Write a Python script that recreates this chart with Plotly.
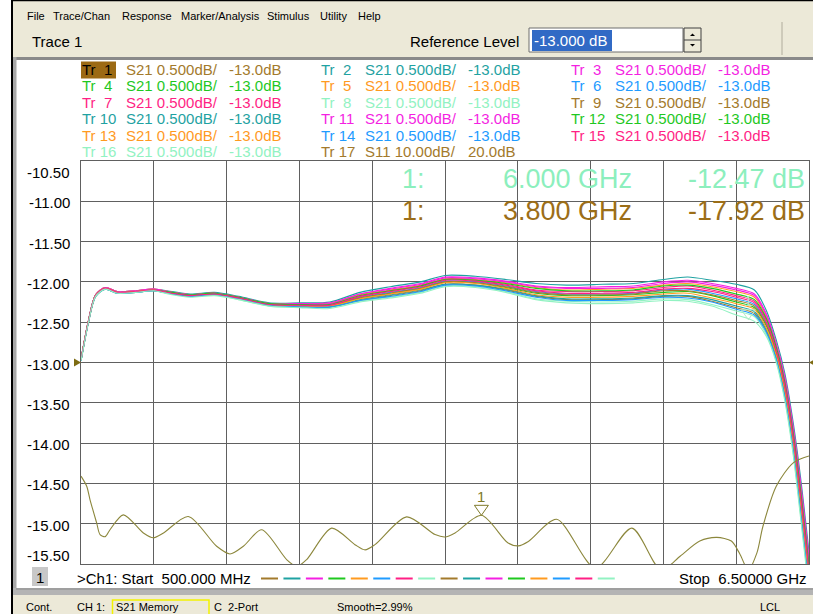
import plotly.graph_objects as go

# ---------------- canvas geometry (pixels) ----------------
W, H = 813, 614
ML, MR, MT, MB = 81, 4, 161, 50
PW, PH = W - ML - MR, H - MT - MB


def px(x):
    """pixel column -> paper x"""
    return (x - ML) / PW


def py(y):
    """pixel row -> paper y"""
    return (H - MB - y) / PH


FONT = "Liberation Sans, Arial, sans-serif"

# ---------------- sweep data ----------------
FREQ_GHZ = [0.50, 0.56, 0.62, 0.70, 0.80, 0.95, 1.10, 1.25, 1.40, 1.60, 1.80, 2.05,
            2.30, 2.55, 2.80, 3.05, 3.30, 3.50, 3.75, 4.00, 4.25, 4.50, 4.80, 5.05,
            5.30, 5.50, 5.70, 5.90, 6.05, 6.15, 6.23, 6.30, 6.37, 6.43, 6.50]

TR1 = [-12.98, -12.51, -12.18, -12.09, -12.14, -12.13, -12.11, -12.15, -12.18, -12.16, -12.21, -12.29,
       -12.31, -12.31, -12.23, -12.17, -12.11, -12.03, -12.04, -12.10, -12.18, -12.22, -12.22, -12.21,
       -12.18, -12.18, -12.24, -12.32, -12.39, -12.62, -12.94, -13.40, -14.07, -14.82, -15.75]
TR2 = [-12.96, -12.49, -12.16, -12.07, -12.12, -12.11, -12.09, -12.12, -12.15, -12.13, -12.18, -12.26,
       -12.26, -12.25, -12.13, -12.06, -12.00, -11.92, -11.93, -11.97, -12.02, -12.04, -12.03, -12.02,
       -11.97, -11.94, -11.98, -12.03, -12.10, -12.36, -12.72, -13.13, -13.75, -14.42, -15.35]
TR3 = [-12.96, -12.49, -12.16, -12.07, -12.12, -12.11, -12.09, -12.13, -12.16, -12.14, -12.19, -12.27,
       -12.27, -12.26, -12.15, -12.08, -12.02, -11.94, -11.95, -11.99, -12.05, -12.07, -12.06, -12.05,
       -12.00, -11.98, -12.02, -12.08, -12.15, -12.40, -12.76, -13.17, -13.80, -14.48, -15.41]
TR4 = [-12.97, -12.50, -12.17, -12.08, -12.13, -12.12, -12.10, -12.14, -12.17, -12.15, -12.20, -12.28,
       -12.30, -12.30, -12.20, -12.14, -12.08, -12.00, -12.01, -12.07, -12.14, -12.17, -12.17, -12.16,
       -12.13, -12.12, -12.17, -12.25, -12.32, -12.55, -12.89, -13.33, -13.99, -14.72, -15.65]
TR5 = [-12.96, -12.49, -12.16, -12.07, -12.12, -12.11, -12.09, -12.13, -12.16, -12.14, -12.19, -12.27,
       -12.28, -12.27, -12.16, -12.10, -12.04, -11.96, -11.97, -12.01, -12.07, -12.10, -12.09, -12.08,
       -12.04, -12.02, -12.06, -12.12, -12.19, -12.44, -12.79, -13.22, -13.85, -14.55, -15.48]
TR6 = [-12.97, -12.50, -12.17, -12.08, -12.13, -12.12, -12.10, -12.14, -12.17, -12.15, -12.20, -12.28,
       -12.29, -12.29, -12.19, -12.13, -12.07, -11.99, -12.00, -12.05, -12.12, -12.15, -12.15, -12.14,
       -12.10, -12.09, -12.14, -12.21, -12.28, -12.52, -12.86, -13.30, -13.95, -14.67, -15.60]
TR7 = [-12.97, -12.50, -12.17, -12.08, -12.13, -12.12, -12.10, -12.14, -12.17, -12.15, -12.19, -12.28,
       -12.28, -12.28, -12.18, -12.11, -12.05, -11.97, -11.98, -12.03, -12.10, -12.12, -12.12, -12.11,
       -12.07, -12.05, -12.10, -12.17, -12.24, -12.48, -12.83, -13.26, -13.90, -14.61, -15.54]
TR8 = [-12.98, -12.51, -12.18, -12.09, -12.14, -12.13, -12.11, -12.15, -12.18, -12.16, -12.22, -12.30,
       -12.31, -12.32, -12.24, -12.19, -12.13, -12.05, -12.06, -12.12, -12.21, -12.24, -12.25, -12.24,
       -12.21, -12.22, -12.28, -12.36, -12.43, -12.66, -12.98, -13.44, -14.12, -14.88, -15.81]
TR9 = [-12.97, -12.50, -12.17, -12.08, -12.13, -12.12, -12.10, -12.14, -12.17, -12.15, -12.20, -12.28,
       -12.29, -12.29, -12.20, -12.14, -12.08, -12.00, -12.01, -12.06, -12.13, -12.16, -12.16, -12.15,
       -12.11, -12.11, -12.16, -12.23, -12.30, -12.54, -12.87, -13.32, -13.97, -14.70, -15.63]
TR10 = [-12.98, -12.51, -12.18, -12.09, -12.14, -12.13, -12.11, -12.15, -12.18, -12.16, -12.21, -12.29,
        -12.30, -12.31, -12.22, -12.16, -12.10, -12.03, -12.04, -12.09, -12.17, -12.21, -12.21, -12.20,
        -12.17, -12.17, -12.22, -12.30, -12.37, -12.60, -12.93, -13.39, -14.05, -14.80, -15.73]
TR11 = [-12.96, -12.49, -12.16, -12.07, -12.12, -12.11, -12.09, -12.13, -12.16, -12.14, -12.19, -12.27,
        -12.27, -12.27, -12.15, -12.09, -12.03, -11.95, -11.96, -12.00, -12.06, -12.08, -12.08, -12.07,
        -12.02, -12.00, -12.04, -12.10, -12.17, -12.42, -12.78, -13.20, -13.83, -14.52, -15.45]
TR12 = [-12.97, -12.50, -12.17, -12.08, -12.13, -12.12, -12.10, -12.13, -12.16, -12.14, -12.19, -12.27,
        -12.28, -12.28, -12.17, -12.11, -12.05, -11.97, -11.98, -12.02, -12.08, -12.11, -12.11, -12.10,
        -12.05, -12.04, -12.08, -12.15, -12.22, -12.46, -12.81, -13.24, -13.88, -14.58, -15.51]
TR13 = [-12.97, -12.50, -12.17, -12.08, -12.13, -12.12, -12.10, -12.15, -12.18, -12.16, -12.21, -12.29,
        -12.30, -12.30, -12.21, -12.15, -12.09, -12.01, -12.02, -12.08, -12.16, -12.19, -12.19, -12.18,
        -12.15, -12.14, -12.20, -12.27, -12.34, -12.58, -12.91, -13.36, -14.02, -14.76, -15.69]
TR14 = [-12.98, -12.51, -12.18, -12.09, -12.14, -12.13, -12.11, -12.15, -12.18, -12.16, -12.21, -12.29,
        -12.31, -12.31, -12.23, -12.18, -12.12, -12.04, -12.05, -12.11, -12.19, -12.23, -12.23, -12.22,
        -12.19, -12.20, -12.25, -12.34, -12.41, -12.63, -12.96, -13.42, -14.09, -14.85, -15.78]
TR15 = [-12.97, -12.50, -12.17, -12.08, -12.13, -12.12, -12.10, -12.14, -12.17, -12.15, -12.20, -12.28,
        -12.29, -12.29, -12.18, -12.12, -12.06, -11.98, -11.99, -12.04, -12.11, -12.14, -12.14, -12.13,
        -12.09, -12.08, -12.12, -12.19, -12.26, -12.50, -12.85, -13.28, -13.93, -14.65, -15.58]
TR16 = [-12.98, -12.51, -12.18, -12.09, -12.14, -12.13, -12.11, -12.16, -12.19, -12.17, -12.22, -12.30,
        -12.32, -12.33, -12.25, -12.20, -12.14, -12.06, -12.07, -12.13, -12.22, -12.26, -12.27, -12.26,
        -12.23, -12.24, -12.30, -12.41, -12.49, -12.68, -13.00, -13.47, -14.15, -14.92, -15.85]

# Tr 17 : S11, 10 dB/div, reference 20 dB at the centre line
S11_FREQ_GHZ = [0.50, 0.547, 0.574, 0.629, 0.657, 0.70, 0.739, 0.849, 1.014, 1.096, 1.18, 1.384,
                1.618, 1.728, 1.838, 1.989, 2.195, 2.278, 2.36, 2.566, 2.758, 2.841, 2.923, 3.184,
                3.418, 3.50, 3.583, 3.80, 4.02, 4.104, 4.187, 4.42, 4.74, 5.04, 5.28, 5.44,
                5.60, 5.74, 5.86, 5.93, 6.00, 6.07, 6.12, 6.23, 6.37, 6.50]
S11_DB = [-8.2, -10.7, -14.0, -19.8, -22.7, -23.2, -21.5, -17.8, -22.3, -23.5, -22.3, -18.2,
          -25.6, -27.5, -25.6, -21.5, -28.9, -30.6, -28.9, -21.1, -25.2, -26.5, -25.2, -18.3,
          -22.7, -23.3, -22.3, -17.92, -24.8, -25.5, -24.4, -18.9, -31.0, -21.1, -31.5, -28.0,
          -24.3, -23.4, -24.3, -27.5, -31.5, -27.3, -20.7, -10.7, -4.9, -3.2]

S21_TRACES = [TR1, TR2, TR3, TR4, TR5, TR6, TR7, TR8, TR9, TR10, TR11, TR12, TR13, TR14, TR15, TR16]

BROWN, TEAL, MAGENTA, GREEN = "#A37A2C", "#1FA2A2", "#F41FE2", "#1FC81F"
ORANGE, BLUE, PINK, MINT = "#FF9A1F", "#1F9BFF", "#FF1F84", "#92F2C2"
TRACE_COLORS = [BROWN, TEAL, MAGENTA, GREEN, ORANGE, BLUE, PINK, MINT,
                BROWN, TEAL, MAGENTA, GREEN, ORANGE, BLUE, PINK, MINT, BROWN]
TRACE_PARAMS = ["S21"] * 16 + ["S11"]
TRACE_SCALES = ["0.500dB/"] * 16 + ["10.00dB/"]
TRACE_REFS = ["-13.0dB"] * 16 + ["20.0dB"]

Y_TICKS = [-10.5, -11.0, -11.5, -12.0, -12.5, -13.0, -13.5, -14.0, -14.5, -15.0, -15.5]

MKR_S21 = (6.000, -12.47)
MKR_S11 = (3.800, -17.92)
MKR_TEXT = [("1:", "6.000 GHz", "-12.47 dB", "#8CEFBD"),
            ("1:", "3.800 GHz", "-17.92 dB", "#9C6E18")]

S11_COLOR = "#8C873C"
GRID = "#606060"
BEIGE = "#ECE9D8"

fig = go.Figure()

for vals, col in zip(S21_TRACES, TRACE_COLORS):
    fig.add_trace(go.Scatter(x=FREQ_GHZ, y=vals, mode="lines", yaxis="y",
                             line=dict(color=col, width=1.1, shape="spline", smoothing=0.8),
                             hoverinfo="skip"))

fig.add_trace(go.Scatter(x=S11_FREQ_GHZ, y=S11_DB, mode="lines", yaxis="y2",
                         line=dict(color=S11_COLOR, width=1.1, shape="spline", smoothing=0.8),
                         hoverinfo="skip"))

shapes = []
ann = []


def rect(x0, y0, x1, y1, fill, line=None, lw=0):
    shapes.append(dict(type="rect", xref="paper", yref="paper", layer="below",
                       x0=px(x0), x1=px(x1), y0=py(y1), y1=py(y0), fillcolor=fill,
                       line=dict(color=line or fill, width=lw)))


def hline(x0, x1, y, color, w=1):
    shapes.append(dict(type="line", xref="paper", yref="paper", layer="above",
                       x0=px(x0), x1=px(x1), y0=py(y), y1=py(y), line=dict(color=color, width=w)))


def vline(x, y0, y1, color, w=1):
    shapes.append(dict(type="line", xref="paper", yref="paper", layer="above",
                       x0=px(x), x1=px(x), y0=py(y0), y1=py(y1), line=dict(color=color, width=w)))


def text(x, y, s, size=15, color="#000000", anchor="left"):
    ann.append(dict(x=px(x), y=py(y), xref="paper", yref="paper", text=s, showarrow=False,
                    xanchor=anchor, yanchor="middle", borderpad=0,
                    font=dict(size=size, color=color, family=FONT)))


# window frame: menu bar, toolbar, chart window, status bar
rect(12, 0, W, 57, BEIGE)
hline(12, W, 0.5, "#000000", 1.5)
vline(12, 0, H, "#000000", 2)
rect(13, 57, W, 60, "#8A8A8A")
rect(13, 57, 16.5, 595, "#A8A8A8")
rect(13, 588, W, 595, "#B4B4B4")
hline(16, W, 589, "#8A8A8A", 1)
rect(13, 595, W, H, BEIGE)
vline(782, 22, 55, "#B0AC9C", 1)

for label, x in [("File", 26), ("Trace/Chan", 52), ("Response", 121), ("Marker/Analysis", 180),
                 ("Stimulus", 266), ("Utility", 319), ("Help", 357)]:
    text(x, 15.5, label, size=11)

text(31, 41.5, "Trace 1", size=15)
text(409, 41.5, "Reference Level", size=15)
rect(529, 28, 683, 52, "#FFFFFF", "#6E6E6E", 1)
rect(532, 30, 612, 51, "#316AC5")
text(533, 40.5, "-13.000 dB", size=15, color="#FFFFFF")
rect(684, 28, 701, 52, BEIGE, "#404040", 1)
hline(684, 701, 40, "#404040", 1)
shapes.append(dict(type="path", xref="paper", yref="paper", layer="above", fillcolor="#000000",
                   line=dict(width=0),
                   path=f"M {px(690)},{py(36)} L {px(695)},{py(36)} L {px(692.5)},{py(33.5)} Z"))
shapes.append(dict(type="path", xref="paper", yref="paper", layer="above", fillcolor="#000000",
                   line=dict(width=0),
                   path=f"M {px(690)},{py(44)} L {px(695)},{py(44)} L {px(692.5)},{py(46.5)} Z"))

# trace legend block
COL_X = [81, 320, 570]
ROW_Y = [69, 85.5, 102, 118.5, 135, 151.5]
rect(81, 61.5, 116, 78.5, "#9C6A14")
for i in range(17):
    cx, ry = COL_X[i % 3], ROW_Y[i // 3]
    col = TRACE_COLORS[i]
    tr_label = ("Tr" + f"{i + 1:>3}").replace(" ", "\u00a0")
    text(cx, ry, tr_label, color="#000000" if i == 0 else col)
    text(cx + 44, ry, f"{TRACE_PARAMS[i]} {TRACE_SCALES[i]}", color=col)
    text(cx + 147, ry, TRACE_REFS[i], color=col)

# marker readout
for (lab, fr, val, col), ry in zip(MKR_TEXT, [178.5, 210.5]):
    text(401, ry, lab, size=27, color=col)
    text(633, ry, fr, size=27, color=col, anchor="right")
    text(806, ry, val, size=27, color=col, anchor="right")

# y scale labels (outer labels sit inside the graticule)
for v in Y_TICKS:
    shift = -11 if v == Y_TICKS[0] else (9 if v == Y_TICKS[-1] else -1.5)
    ann.append(dict(x=px(71), y=v, xref="paper", yref="y", text=f"{v:.2f}", showarrow=False,
                    xanchor="right", yanchor="middle", yshift=shift, borderpad=0,
                    font=dict(size=15, color="#000000", family=FONT)))

# reference position arrows
shapes.append(dict(type="path", xref="paper", yref="y", xsizemode="pixel", ysizemode="pixel",
                   xanchor=0, yanchor=-13.0, path="M -7,4 L 0,0 L -7,-4 Z",
                   fillcolor="#7D6B12", line=dict(width=0), layer="above"))
shapes.append(dict(type="path", xref="paper", yref="y", xsizemode="pixel", ysizemode="pixel",
                   xanchor=1, yanchor=-13.0, path="M 0,0 L 7,4 L 7,-4 Z",
                   fillcolor="#7D6B12", line=dict(width=0), layer="above"))

# markers
for (mx, my), yr, col in [(MKR_S11, "y2", "#7F7A2A"), (MKR_S21, "y", "#B8E8C8")]:
    shapes.append(dict(type="path", xref="x", yref=yr, xsizemode="pixel", ysizemode="pixel",
                       xanchor=mx, yanchor=my, path="M -7,10 L 7,10 L 0,0 Z",
                       fillcolor="rgba(0,0,0,0)", line=dict(color=col, width=1), layer="above"))
    ann.append(dict(x=mx, y=my, xref="x", yref=yr, text="1", showarrow=False, yshift=19,
                    xanchor="center", yanchor="middle",
                    font=dict(size=15, color=col, family=FONT)))

# channel line below the graticule
rect(32, 567, 48, 586, "#C8C8C8")
text(40, 577, "1", size=15, anchor="center")
text(76, 578, ">Ch1: Start\u00a0\u00a0500.000 MHz", size=15)
text(808, 578, "Stop\u00a0\u00a06.50000 GHz", size=15, anchor="right")
for k, col in enumerate(TRACE_COLORS[:16]):
    x0 = 261 + k * 22.45
    hline(x0, x0 + 17, 578.5, col, 2)

# status bar
rect(112.5, 600, 209, H + 2, "rgba(0,0,0,0)", "#F2F200", 1.5)
for label, x in [("Cont.", 25), ("CH 1:", 76), ("S21 Memory", 115), ("C\u00a0\u00a02-Port", 213),
                 ("Smooth=2.99%", 336), ("LCL", 759)]:
    text(x, 607, label, size=11)

fig.update_layout(
    width=W, height=H, autosize=False,
    margin=dict(l=ML, r=MR, t=MT, b=MB, pad=0),
    paper_bgcolor="#FFFFFF", plot_bgcolor="#FFFFFF",
    showlegend=False,
    xaxis=dict(range=[0.5, 6.5], tick0=0.5, dtick=0.6, showgrid=True, gridcolor=GRID, gridwidth=1,
               showticklabels=False, ticks="", zeroline=False, showline=True, linecolor=GRID,
               linewidth=1, mirror=True, fixedrange=True),
    yaxis=dict(range=[-15.5, -10.5], tick0=-15.5, dtick=0.5, showgrid=True, gridcolor=GRID,
               gridwidth=1, showticklabels=False, ticks="", zeroline=False, showline=True,
               linecolor=GRID, linewidth=1, mirror=True, fixedrange=True),
    yaxis2=dict(range=[-30, 70], overlaying="y", visible=False, fixedrange=True),
    shapes=shapes,
    annotations=ann,
)

fig.write_html("out.html")
